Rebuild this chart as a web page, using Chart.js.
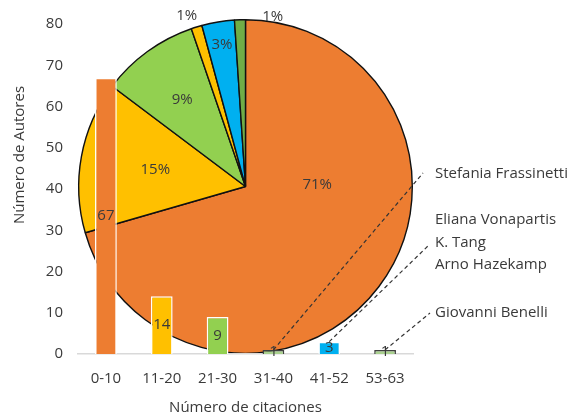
<!DOCTYPE html>
<html>
<head>
<meta charset="utf-8">
<script src="https://cdn.jsdelivr.net/npm/chart.js@4.4.1/dist/chart.umd.min.js"></script>
<style>
  body { margin: 0; background: #fff; }
  .wrap { position: relative; width: 573px; height: 418px; }
  .wrap canvas { position: absolute; left: 0; top: 0; }
</style>
</head>
<body>
<div class="wrap">
  <canvas id="pie" width="573" height="418"></canvas>
  <canvas id="bars" width="573" height="418"></canvas>
</div>
<script>
// data
const categories = ["0-10", "11-20", "21-30", "31-40", "41-52", "53-63"];
const authorCounts = [67, 14, 9, 1, 3, 1];
const yTickStep = 10;
const yMax = 80;
const barColors = ["#ED7D31", "#FFC000", "#92D050", "#A9D18E", "#00B0F0", "#A9D18E"];
const barBorders = ["#fff", "#fff", "#fff", "#404040", "#fff", "#404040"];
const pieColors = ["#ED7D31", "#FFC000", "#92D050", "#FFC000", "#00B0F0", "#70AD47"];
const annotatedCategories = ["31-40", "41-52", "53-63"];
const annotatedNames = [
    ["Stefania Frassinetti"],
    ["Eliana Vonapartis", "K. Tang", "Arno Hazekamp"],
    ["Giovanni Benelli"]
];

const FONT = "'Open Sans', 'Noto Sans', sans-serif";
const TEXT = "#3A3A3A";
const SIZE = 15;

// where the pie labels sit (fraction of radius, angle shift in degrees)
const pieLabelR = [0.43, 0.55, 0.645, 1.08, 0.86, 1.03];
const pieLabelShift = [-38, 0, 0, -2, 0, 11];

const total = authorCounts.reduce((a, b) => a + b, 0);

const pieLabels = {
    id: "pieLabels",
    afterDatasetsDraw(chart) {
        const ctx = chart.ctx;
        const meta = chart.getDatasetMeta(0);
        ctx.save();
        ctx.font = SIZE + "px " + FONT;
        ctx.fillStyle = TEXT;
        ctx.textAlign = "center";
        ctx.textBaseline = "middle";
        meta.data.forEach((arc, i) => {
            const p = arc.getProps(["x", "y", "startAngle", "endAngle", "outerRadius"], true);
            const mid = (p.startAngle + p.endAngle) / 2 + pieLabelShift[i] * Math.PI / 180;
            const r = p.outerRadius * pieLabelR[i];
            const pct = Math.round(authorCounts[i] / total * 100) + "%";
            ctx.fillText(pct, p.x + r * Math.cos(mid), p.y + r * Math.sin(mid));
        });
        ctx.restore();
    }
};

new Chart(document.getElementById("pie"), {
    type: "pie",
    data: {
        labels: categories,
        datasets: [{
            data: authorCounts,
            backgroundColor: pieColors,
            borderColor: "#111",
            borderWidth: 1.4
        }]
    },
    options: {
        responsive: false,
        animation: false,
        layout: { padding: { left: 78, top: 19, right: 160, bottom: 64 } },
        plugins: { legend: { display: false }, tooltip: { enabled: false } }
    },
    plugins: [pieLabels]
});

const barLabels = {
    id: "barLabels",
    afterDatasetsDraw(chart) {
        const ctx = chart.ctx;
        const meta = chart.getDatasetMeta(0);
        ctx.save();
        ctx.font = SIZE + "px " + FONT;
        ctx.fillStyle = TEXT;
        ctx.textAlign = "center";
        ctx.textBaseline = "middle";
        meta.data.forEach((bar, i) => {
            ctx.fillText(String(authorCounts[i]), bar.x, (bar.y + bar.base) / 2);
        });
        ctx.restore();
    }
};

const extras = {
    id: "extras",
    afterDraw(chart) {
        const ctx = chart.ctx;
        const area = chart.chartArea;
        const meta = chart.getDatasetMeta(0);
        ctx.save();
        ctx.font = SIZE + "px " + FONT;
        ctx.fillStyle = TEXT;

        // axis titles
        ctx.textAlign = "center";
        ctx.textBaseline = "middle";
        ctx.fillText("Número de citaciones", (area.left + area.right) / 2, 408);
        ctx.save();
        ctx.translate(20, 155);
        ctx.rotate(-Math.PI / 2);
        ctx.fillText("Número de Autores", 0, 0);
        ctx.restore();

        // author call-outs
        const textX = area.right + 22;
        const firstLineY = [174, 220, 313];
        const lineEnd = [[area.right + 10, 173], [area.right + 16, 245], [area.right + 17, 313]];
        ctx.textAlign = "left";
        annotatedCategories.forEach((cat, k) => {
            const bar = meta.data[categories.indexOf(cat)];
            ctx.strokeStyle = "#333";
            ctx.lineWidth = 1.2;
            ctx.setLineDash([4, 3]);
            ctx.beginPath();
            ctx.moveTo(bar.x, bar.y);
            ctx.lineTo(lineEnd[k][0], lineEnd[k][1]);
            ctx.stroke();
            annotatedNames[k].forEach((name, j) => {
                ctx.fillText(name, textX, firstLineY[k] + j * 22.5);
            });
        });
        ctx.restore();
    }
};

new Chart(document.getElementById("bars"), {
    type: "bar",
    data: {
        labels: categories,
        datasets: [{
            data: authorCounts,
            backgroundColor: barColors,
            borderColor: barBorders,
            borderWidth: 1.5,
            barPercentage: 0.39,
            categoryPercentage: 1
        }]
    },
    options: {
        responsive: false,
        animation: false,
        layout: { padding: { left: 0, top: 20, right: 160, bottom: 0 } },
        plugins: { legend: { display: false }, tooltip: { enabled: false } },
        scales: {
            x: {
                grid: { display: false, drawTicks: false },
                border: { display: true, color: "#D9D9D9", width: 1.5 },
                ticks: { color: TEXT, font: { family: FONT, size: SIZE }, padding: 16 },
                afterFit(scale) { scale.height = 64; }
            },
            y: {
                min: 0,
                max: yMax,
                grid: { display: false, drawTicks: false },
                border: { display: false },
                ticks: { stepSize: yTickStep, color: TEXT, font: { family: FONT, size: SIZE }, padding: 15 },
                afterFit(scale) { scale.width = 78; }
            }
        }
    },
    plugins: [barLabels, extras]
});
</script>
</body>
</html>
